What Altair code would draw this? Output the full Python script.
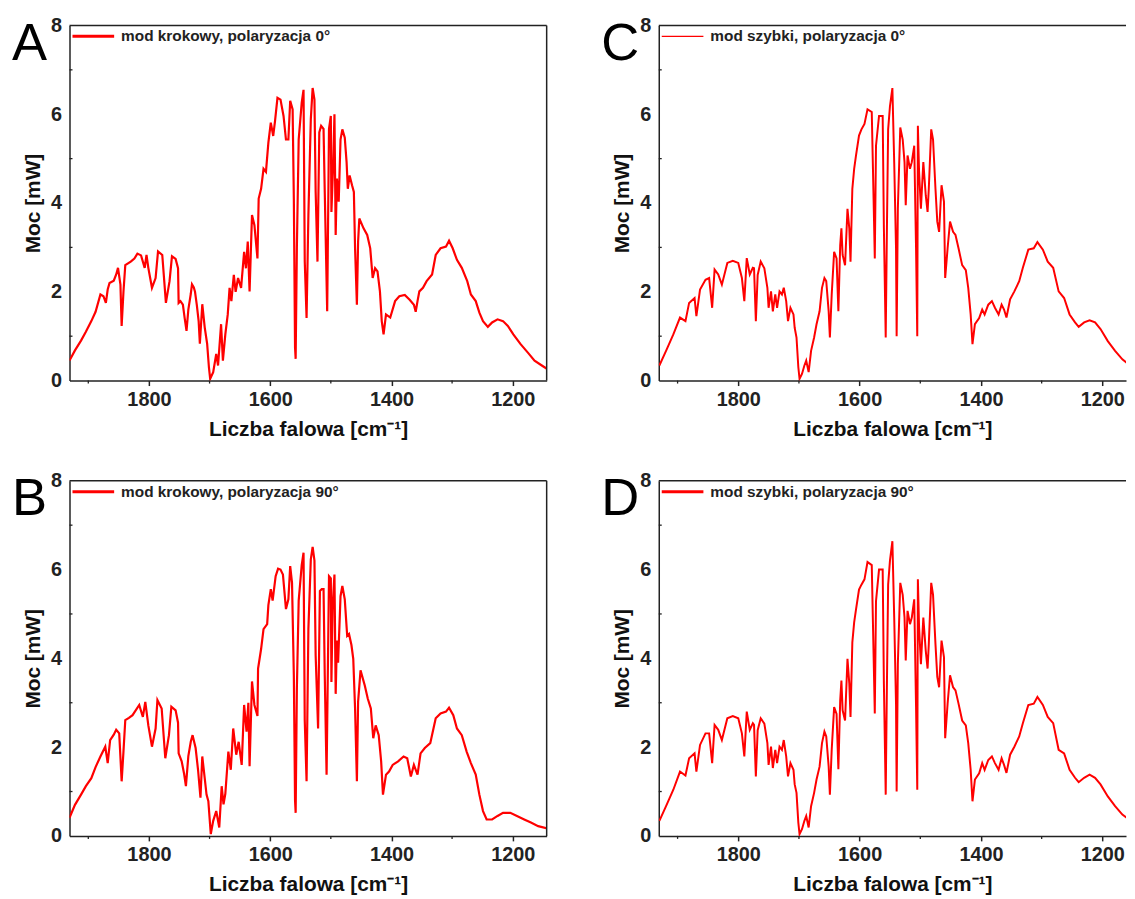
import altair as alt
import pandas as pd

# ---------------- data (wavenumber [cm-1], power [mW]) ----------------
spectrum_A = [
    (1931, 0.45), (1922, 0.68), (1912, 0.90), (1904, 1.10), (1895, 1.34), (1888, 1.55),
    (1880, 1.94), (1875, 1.90), (1871, 1.75), (1868, 2.05), (1865, 2.20), (1858, 2.25),
    (1854, 2.39), (1851, 2.54), (1847, 2.16), (1845, 1.23), (1842, 2.00), (1839, 2.60),
    (1830, 2.68), (1824, 2.75), (1819, 2.86), (1813, 2.82), (1807, 2.54), (1804, 2.83),
    (1801, 2.54), (1795, 2.09), (1789, 2.31), (1785, 2.91), (1778, 2.83), (1772, 1.75),
    (1766, 2.24), (1762, 2.80), (1756, 2.74), (1752, 2.53), (1751, 1.75), (1748, 1.79),
    (1744, 1.71), (1741, 1.40), (1738, 1.12), (1735, 1.60), (1731, 1.95), (1729, 2.17),
    (1726, 2.10), (1724, 2.00), (1721, 1.70), (1718, 1.34), (1716, 0.83), (1712, 1.72),
    (1708, 1.20), (1704, 0.83), (1701, 0.29), (1699, 0.04), (1694, 0.19), (1689, 0.60),
    (1686, 0.34), (1681, 1.27), (1678, 0.45), (1674, 1.04), (1670, 1.49), (1667, 2.09),
    (1664, 1.79), (1660, 2.38), (1657, 2.00), (1653, 2.31), (1648, 2.09), (1643, 2.90),
    (1640, 2.53), (1637, 3.13), (1634, 2.01), (1630, 3.73), (1626, 3.50), (1621, 2.75),
    (1619, 4.10), (1615, 4.32), (1611, 4.77), (1607, 4.70), (1603, 5.36), (1599, 5.81),
    (1595, 5.51), (1592, 5.85), (1588, 6.37), (1583, 6.33), (1578, 5.96), (1574, 5.43),
    (1570, 5.43), (1567, 6.30), (1563, 6.11), (1561, 4.10), (1559, 0.74), (1558, 0.49),
    (1556, 2.99), (1553, 5.43), (1548, 6.26), (1545, 6.55), (1543, 2.69), (1540, 1.41),
    (1537, 3.73), (1533, 5.89), (1530, 6.59), (1527, 6.33), (1525, 4.25), (1522, 2.68),
    (1519, 5.59), (1516, 5.74), (1512, 5.67), (1510, 4.25), (1506, 1.56), (1503, 5.67),
    (1500, 5.96), (1499, 3.80), (1496, 4.92), (1494, 6.00), (1492, 3.28), (1490, 4.55),
    (1487, 4.03), (1484, 5.43), (1481, 5.66), (1477, 5.47), (1474, 4.92), (1472, 4.32),
    (1469, 4.62), (1465, 4.40), (1462, 4.25), (1460, 2.98), (1457, 1.71), (1455, 3.13),
    (1453, 3.65), (1446, 3.43), (1440, 3.28), (1435, 2.98), (1431, 2.31), (1427, 2.53),
    (1423, 2.46), (1419, 2.01), (1416, 1.34), (1413, 1.04), (1409, 1.49), (1402, 1.42),
    (1394, 1.79), (1387, 1.90), (1378, 1.93), (1370, 1.82), (1363, 1.71), (1360, 1.55),
    (1357, 1.79), (1354, 2.01), (1348, 2.09), (1342, 2.24), (1333, 2.39), (1327, 2.83),
    (1319, 2.98), (1310, 3.02), (1305, 3.15), (1299, 2.98), (1292, 2.72), (1284, 2.54),
    (1275, 2.24), (1269, 1.94), (1261, 1.79), (1255, 1.53), (1249, 1.34), (1241, 1.21),
    (1234, 1.31), (1225, 1.38), (1216, 1.34), (1208, 1.23), (1199, 1.04), (1187, 0.82),
    (1175, 0.63), (1164, 0.45), (1152, 0.34), (1143, 0.26),
]

spectrum_B = [
    (1931, 0.41), (1922, 0.70), (1912, 0.93), (1904, 1.12), (1895, 1.30), (1888, 1.55),
    (1880, 1.79), (1872, 2.01), (1868, 1.64), (1864, 2.16), (1858, 2.28), (1854, 2.39),
    (1849, 2.31), (1845, 1.23), (1842, 1.90), (1839, 2.61), (1833, 2.66), (1827, 2.72),
    (1816, 2.95), (1810, 2.68), (1806, 3.02), (1801, 2.49), (1795, 2.01), (1789, 2.42),
    (1786, 3.06), (1779, 2.87), (1773, 1.75), (1767, 2.27), (1763, 2.91), (1756, 2.83),
    (1752, 2.55), (1751, 1.86), (1746, 1.68), (1742, 1.40), (1739, 1.12), (1735, 1.80),
    (1731, 2.12), (1728, 2.27), (1723, 1.98), (1719, 1.49), (1715, 0.86), (1712, 1.79),
    (1708, 1.30), (1705, 0.93), (1702, 0.78), (1698, 0.04), (1694, 0.34), (1689, 0.56),
    (1684, 0.19), (1680, 1.12), (1677, 0.71), (1674, 0.95), (1669, 1.90), (1665, 1.49),
    (1661, 2.42), (1656, 1.83), (1652, 2.12), (1647, 1.60), (1643, 2.95), (1639, 2.35),
    (1636, 3.00), (1634, 1.57), (1630, 3.48), (1626, 2.95), (1621, 2.70), (1620, 3.77),
    (1615, 4.21), (1611, 4.66), (1605, 4.77), (1603, 5.20), (1599, 5.56), (1596, 5.30),
    (1591, 5.85), (1587, 6.02), (1583, 6.00), (1579, 5.89), (1574, 5.11), (1570, 5.33),
    (1567, 6.08), (1564, 5.70), (1561, 3.62), (1559, 0.80), (1558, 0.52), (1556, 3.32),
    (1553, 5.30), (1548, 6.10), (1545, 6.38), (1543, 2.60), (1540, 1.23), (1537, 4.66),
    (1533, 6.23), (1530, 6.51), (1527, 6.20), (1525, 4.06), (1521, 2.42), (1518, 5.52),
    (1515, 5.56), (1512, 5.56), (1510, 3.62), (1507, 1.38), (1503, 5.85), (1500, 5.80),
    (1499, 3.47), (1497, 5.18), (1494, 5.89), (1492, 3.20), (1490, 4.40), (1488, 3.90),
    (1484, 5.40), (1481, 5.63), (1477, 5.33), (1473, 4.51), (1470, 4.55), (1466, 4.30),
    (1463, 3.99), (1460, 2.87), (1457, 1.23), (1455, 3.02), (1451, 3.73), (1444, 3.39),
    (1439, 3.09), (1434, 2.87), (1430, 2.20), (1426, 2.49), (1421, 2.27), (1417, 1.68),
    (1414, 0.93), (1409, 1.38), (1404, 1.45), (1398, 1.60), (1389, 1.68), (1380, 1.79),
    (1374, 1.75), (1368, 1.34), (1363, 1.60), (1357, 1.38), (1352, 1.86), (1345, 1.98),
    (1336, 2.09), (1327, 2.65), (1319, 2.76), (1310, 2.80), (1305, 2.89), (1298, 2.72),
    (1292, 2.42), (1284, 2.27), (1276, 1.90), (1269, 1.64), (1261, 1.38), (1255, 0.93),
    (1249, 0.56), (1243, 0.37), (1234, 0.37), (1225, 0.45), (1216, 0.52), (1204, 0.52),
    (1193, 0.45), (1181, 0.37), (1170, 0.30), (1158, 0.22), (1143, 0.17),
]

spectrum_C = [
    (1930, 0.34), (1919, 0.67), (1907, 1.04), (1896, 1.42), (1887, 1.34), (1881, 1.75),
    (1872, 1.86), (1869, 1.45), (1863, 2.05), (1854, 2.27), (1848, 2.31), (1843, 1.64),
    (1839, 2.50), (1833, 2.39), (1827, 2.16), (1818, 2.65), (1809, 2.70), (1800, 2.65),
    (1794, 2.31), (1790, 1.79), (1786, 2.76), (1781, 2.39), (1776, 2.54), (1774, 2.53),
    (1771, 1.34), (1768, 2.38), (1763, 2.68), (1757, 2.53), (1752, 2.09), (1750, 1.64),
    (1746, 2.01), (1743, 1.56), (1739, 1.94), (1736, 1.64), (1732, 2.01), (1728, 1.94),
    (1725, 2.09), (1721, 1.79), (1718, 1.34), (1714, 1.64), (1709, 1.49), (1707, 1.19),
    (1704, 0.97), (1701, 0.30), (1699, 0.04), (1695, 0.15), (1691, 0.34), (1688, 0.45),
    (1684, 0.19), (1680, 0.67), (1675, 0.97), (1671, 1.27), (1666, 1.56), (1662, 2.09),
    (1658, 2.31), (1655, 2.24), (1651, 1.56), (1649, 0.97), (1646, 1.94), (1642, 2.90),
    (1638, 2.75), (1635, 1.56), (1632, 3.05), (1630, 3.43), (1628, 2.83), (1624, 2.60),
    (1620, 3.87), (1617, 3.43), (1615, 2.68), (1612, 4.32), (1609, 4.77), (1606, 5.07),
    (1601, 5.52), (1597, 5.66), (1592, 5.78), (1587, 6.11), (1580, 6.05), (1577, 4.10),
    (1575, 2.75), (1573, 5.29), (1568, 5.96), (1562, 5.96), (1560, 3.43), (1557, 0.97),
    (1555, 3.43), (1553, 5.66), (1550, 6.18), (1546, 6.59), (1543, 4.92), (1540, 2.98),
    (1539, 1.00), (1537, 3.87), (1533, 5.70), (1529, 5.43), (1526, 4.92), (1524, 3.95),
    (1521, 5.07), (1517, 4.77), (1514, 4.92), (1510, 5.29), (1507, 2.98), (1505, 1.00),
    (1504, 5.74), (1502, 4.70), (1499, 3.87), (1495, 4.92), (1491, 4.17), (1488, 3.80),
    (1486, 4.32), (1482, 5.66), (1479, 5.43), (1475, 4.32), (1472, 3.58), (1469, 3.35),
    (1465, 4.40), (1461, 4.03), (1459, 2.31), (1455, 2.98), (1451, 3.58), (1446, 3.35),
    (1442, 3.28), (1437, 2.98), (1431, 2.60), (1425, 2.49), (1421, 2.09), (1417, 1.49),
    (1414, 0.82), (1410, 1.27), (1403, 1.41), (1398, 1.60), (1394, 1.49), (1388, 1.71),
    (1382, 1.79), (1377, 1.64), (1371, 1.49), (1366, 1.71), (1362, 1.60), (1358, 1.42),
    (1352, 1.83), (1345, 2.01), (1337, 2.24), (1331, 2.54), (1322, 2.95), (1313, 2.98),
    (1307, 3.12), (1298, 2.95), (1290, 2.68), (1281, 2.54), (1272, 2.01), (1263, 1.86),
    (1254, 1.49), (1245, 1.31), (1239, 1.21), (1230, 1.31), (1221, 1.36), (1212, 1.31),
    (1203, 1.16), (1191, 0.89), (1179, 0.67), (1167, 0.48), (1160, 0.40), (1150, 0.30),
]

spectrum_D = [
    (1930, 0.34), (1919, 0.67), (1907, 1.04), (1896, 1.45), (1887, 1.36), (1881, 1.75),
    (1872, 1.86), (1869, 1.45), (1863, 2.05), (1854, 2.31), (1848, 2.31), (1843, 1.64),
    (1839, 2.50), (1833, 2.39), (1827, 2.16), (1818, 2.65), (1809, 2.70), (1800, 2.65),
    (1794, 2.31), (1790, 1.79), (1786, 2.80), (1781, 2.39), (1776, 2.54), (1774, 2.50),
    (1771, 1.34), (1768, 2.38), (1763, 2.65), (1757, 2.53), (1752, 2.09), (1750, 1.60),
    (1746, 2.01), (1743, 1.53), (1739, 1.94), (1736, 1.64), (1732, 2.01), (1728, 1.94),
    (1725, 2.16), (1721, 1.79), (1718, 1.34), (1714, 1.64), (1709, 1.49), (1707, 1.16),
    (1704, 0.97), (1701, 0.30), (1699, 0.04), (1695, 0.15), (1691, 0.34), (1688, 0.45),
    (1684, 0.19), (1680, 0.67), (1675, 0.97), (1671, 1.27), (1666, 1.56), (1662, 2.09),
    (1658, 2.35), (1655, 2.24), (1651, 1.56), (1649, 0.93), (1646, 1.94), (1642, 2.90),
    (1638, 2.75), (1635, 1.50), (1632, 3.05), (1630, 3.50), (1628, 2.83), (1624, 2.60),
    (1620, 3.99), (1617, 3.43), (1615, 2.68), (1612, 4.36), (1609, 4.81), (1606, 5.10),
    (1601, 5.55), (1597, 5.66), (1592, 5.78), (1587, 6.17), (1580, 6.10), (1577, 4.10),
    (1575, 2.76), (1573, 5.29), (1568, 6.00), (1562, 6.00), (1560, 3.43), (1557, 0.93),
    (1555, 3.43), (1553, 5.66), (1550, 6.20), (1546, 6.64), (1543, 4.92), (1540, 2.98),
    (1539, 1.00), (1537, 3.87), (1533, 5.70), (1529, 5.43), (1526, 4.92), (1524, 3.95),
    (1521, 5.07), (1517, 4.77), (1514, 4.92), (1510, 5.33), (1507, 2.91), (1505, 1.04),
    (1504, 5.78), (1502, 4.70), (1499, 3.87), (1495, 4.92), (1491, 4.17), (1488, 3.77),
    (1486, 4.32), (1482, 5.70), (1479, 5.43), (1475, 4.32), (1472, 3.58), (1469, 3.35),
    (1465, 4.40), (1461, 4.03), (1459, 2.20), (1455, 2.98), (1451, 3.62), (1446, 3.35),
    (1442, 3.28), (1437, 2.98), (1431, 2.60), (1425, 2.49), (1421, 2.09), (1417, 1.49),
    (1414, 0.78), (1410, 1.27), (1403, 1.41), (1398, 1.64), (1394, 1.49), (1388, 1.71),
    (1382, 1.79), (1377, 1.64), (1371, 1.49), (1366, 1.75), (1362, 1.60), (1358, 1.42),
    (1352, 1.83), (1345, 2.01), (1337, 2.24), (1331, 2.54), (1322, 2.95), (1313, 2.98),
    (1307, 3.13), (1298, 2.95), (1290, 2.68), (1281, 2.54), (1272, 1.94), (1263, 1.86),
    (1254, 1.49), (1245, 1.31), (1239, 1.21), (1230, 1.31), (1221, 1.38), (1212, 1.31),
    (1203, 1.16), (1191, 0.89), (1179, 0.67), (1167, 0.48), (1160, 0.41), (1150, 0.30),
]

panel_letters = ["A", "C", "B", "D"]
legend_labels = [
    "mod krokowy, polaryzacja 0°",
    "mod szybki, polaryzacja 0°",
    "mod krokowy, polaryzacja 90°",
    "mod szybki, polaryzacja 90°",
]
x_major_ticks = [1200, 1400, 1600, 1800]
x_minor_ticks = [1300, 1500, 1700, 1900]
y_major_ticks = [0, 2, 4, 6, 8]
y_minor_ticks = [1, 3, 5, 7]

# ---------------- styling ----------------
FONT = "Liberation Sans"
RED = "#ff0000"
INK = "#222222"
X_LEFT = 1931
X_RIGHT_FULL = 1144
X_RIGHT_CUT = 1161
H = 358
W_FULL = 481
W_CUT = 471


def make_panel(letter, label, data, full, lw, legw):
    df = pd.DataFrame(data, columns=["wn", "moc"])
    right = X_RIGHT_FULL if full else X_RIGHT_CUT
    width = W_FULL if full else W_CUT
    xscale = alt.Scale(domain=[right, X_LEFT], reverse=True, nice=False, zero=False)
    yscale = alt.Scale(domain=[0, 8], nice=False, zero=False)

    xaxis = alt.Axis(
        values=x_major_ticks, format="d", title="Liczba falowa [cm⁻¹]",
        tickSize=5, labelPadding=4, titlePadding=9, labelFlush=False,
        grid=False, domain=True,
    )
    yaxis = alt.Axis(
        values=y_major_ticks, format="d", title="Moc [mW]", ticks=False,
        labelPadding=8, titlePadding=7, labelFlush=False, grid=False, domain=True,
    )

    line = alt.Chart(df).mark_line(color=RED, strokeWidth=lw, clip=True).encode(
        x=alt.X("wn:Q", scale=xscale, axis=xaxis),
        y=alt.Y("moc:Q", scale=yscale, axis=yaxis),
    )

    # minor ticks (x: outward, y: inward), drawn with the same scales
    minor_x = alt.Chart(pd.DataFrame({"wn": x_minor_ticks})).mark_rule(
        color=INK, strokeWidth=1.3
    ).encode(x="wn:Q", y=alt.value(H), y2=alt.value(H + 3))

    inner_y = alt.Chart(pd.DataFrame({"moc": y_minor_ticks})).mark_rule(
        color=INK, strokeWidth=1.3
    ).encode(y="moc:Q", x=alt.value(0), x2=alt.value(3))

    one = pd.DataFrame({"k": [0]})
    top_border = alt.Chart(one).mark_rule(color=INK, strokeWidth=1.5).encode(
        x=alt.value(0), x2=alt.value(width), y=alt.value(0)
    )
    layers = [line, minor_x, inner_y, top_border]
    if full:
        right_border = alt.Chart(one).mark_rule(color=INK, strokeWidth=1.5).encode(
            x=alt.value(width), y=alt.value(0), y2=alt.value(H)
        )
        layers.append(right_border)

    letter_mark = alt.Chart(one).mark_text(
        text=letter, align="left", baseline="alphabetic", font=FONT,
        fontSize=53, color="black",
    ).encode(x=alt.value(-58), y=alt.value(35))

    leg_line = alt.Chart(one).mark_rule(color=RED, strokeWidth=legw).encode(
        x=alt.value(3), x2=alt.value(45), y=alt.value(11)
    )
    leg_text = alt.Chart(one).mark_text(
        text=label, align="left", baseline="alphabetic", font=FONT,
        fontWeight="bold", fontSize=15.5, color=INK,
    ).encode(x=alt.value(52), y=alt.value(16))

    layers += [letter_mark, leg_line, leg_text]
    return alt.layer(*layers).properties(width=width, height=H)


pA = make_panel(panel_letters[0], legend_labels[0], spectrum_A, True, 2.2, 3)
pC = make_panel(panel_letters[1], legend_labels[1], spectrum_C, False, 2.0, 1.3)
pB = make_panel(panel_letters[2], legend_labels[2], spectrum_B, True, 2.2, 3)
pD = make_panel(panel_letters[3], legend_labels[3], spectrum_D, False, 2.0, 3)

chart = alt.concat(
    pA, pC, pB, pD, columns=2,
    spacing={"row": 101, "column": 113}, bounds="flush",
).properties(
    padding={"left": 4, "top": 4, "right": 0, "bottom": 0},
    background="white",
).configure_view(stroke=None).configure_axis(
    labelFont=FONT, labelFontWeight="bold", labelFontSize=20, labelColor=INK,
    titleFont=FONT, titleFontWeight="bold", titleFontSize=21, titleColor="#111111",
    domainColor=INK, domainWidth=1.5, tickColor=INK, tickWidth=1.5,
)

chart.save("out.html", embed_options={"renderer": "svg", "actions": False})
